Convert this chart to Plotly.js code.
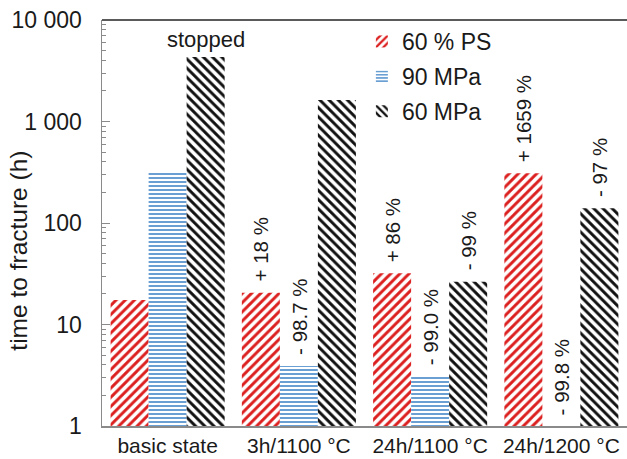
<!DOCTYPE html>
<html><head><meta charset="utf-8">
<script src="https://cdn.plot.ly/plotly-3.0.1.min.js"></script>
<style>html,body{margin:0;padding:0;background:#fff}</style>
</head><body><div id="chart" style="width:627px;height:459px"></div>
<script>
const categories = ["basic state", "3h/1100 °C", "24h/1100 °C", "24h/1200 °C"];
const seriesNames = ["60 % PS", "90 MPa", "60 MPa"];
const ps60 = [17.4, 20.6, 32, 309];
const mpa90 = [318, 3.9, 3.1, 0.64];
const mpa60 = [4320, 1630, 26.4, 140];
const labelsPS = ["", "+ 18 %", "+ 86 %", "+ 1659 %"];
const labels90 = ["", "- 98.7 %", "- 99.0 %", "- 99.8 %"];
const labels60 = ["stopped", "", "- 99 %", "- 97 %"];
const yTickVals = [1, 10, 100, 1000, 10000];
const yTickText = ["1", "10", "100", "1 000", "10 000"];
const yTitle = "time to fracture (h)";

const FONT = 'Arial, "Liberation Sans", sans-serif';
const colors = ["#dc1f1f", "#6a9fd4", "#111111"];
const shapes = ["/", "-", "\\"];
const sizes = [6.5, 4, 6.5];
const solid = [0.45, 0.5, 0.45];
const seriesVals = [ps60, mpa90, mpa60];
const seriesLabels = [labelsPS, labels90, labels60];

const traces = seriesVals.map((vals, j) => ({
  type: "bar",
  name: seriesNames[j],
  x: categories,
  y: vals,
  legendgroup: "g" + j,
  marker: {
    color: "#ffffff",
    line: {width: 0},
    pattern: {shape: shapes[j], fgcolor: colors[j], bgcolor: "#ffffff", size: sizes[j], solidity: solid[j]}
  },
  hoverinfo: "skip"
}));

// minor tick positions (axis furniture)
const minorVals = [];
for (let d = 0; d < 4; d++) for (let m = 2; m <= 9; m++) minorVals.push(m * Math.pow(10, d));
traces.push({type: "scatter", x: [categories[0]], y: [1], yaxis: "y2", mode: "markers",
  marker: {opacity: 0}, showlegend: false, hoverinfo: "skip"});

const bargap = 0.131;
const barW = (1 - bargap) / 3;
const annotations = [];
seriesLabels.forEach((labs, j) => {
  labs.forEach((t, i) => {
    if (!t) return;
    const v = Math.max(seriesVals[j][i], 1);
    const rotated = t !== "stopped";
    annotations.push({
      x: i + (j - 1) * barW, y: Math.log10(v), xref: "x", yref: "y",
      text: t, showarrow: false, textangle: rotated ? -90 : 0,
      xanchor: "center", yanchor: "bottom", yshift: rotated ? 9 : 3,
      font: {family: FONT, size: rotated ? 20.5 : 22, color: "#1a1a1a"}
    });
  });
});
// y-axis title
annotations.push({
  xref: "paper", yref: "paper", x: -0.158, y: 0.432, xanchor: "center", yanchor: "middle",
  text: yTitle, textangle: -90, showarrow: false,
  font: {family: FONT, size: 24.5, color: "#1a1a1a"}
});

const layout = {
  width: 627, height: 459,
  margin: {l: 102, r: 0, t: 20, b: 33, pad: 0},
  paper_bgcolor: "#ffffff", plot_bgcolor: "#ffffff",
  barmode: "group", bargap: bargap, bargroupgap: 0,
  font: {family: FONT, color: "#1a1a1a"},
  xaxis: {
    type: "category", range: [-0.5, 3.5], showgrid: false, zeroline: false,
    showline: true, linecolor: "#8a8a8a", linewidth: 2, ticks: "",
    ticklabelstandoff: 0,
    tickfont: {family: FONT, size: 21, color: "#1a1a1a"}, fixedrange: true
  },
  yaxis: {
    type: "log", range: [0, 4], tickvals: yTickVals, ticktext: yTickText,
    showgrid: false, zeroline: false, showline: true, linecolor: "#8a8a8a", linewidth: 1.5,
    ticks: "inside", ticklen: 8, tickwidth: 1, tickcolor: "#8a8a8a",
    ticklabelstandoff: 14,
    tickfont: {family: FONT, size: 23, color: "#1a1a1a"}
  },
  yaxis2: {
    type: "log", range: [0, 4], overlaying: "y", side: "left", tickvals: minorVals,
    showticklabels: false, ticks: "inside", ticklen: 4, tickwidth: 1, tickcolor: "#8a8a8a",
    showgrid: false, zeroline: false, showline: false
  },
  showlegend: true,
  legend: {
    x: 0.495, y: 1.0, xanchor: "left", yanchor: "top",
    bgcolor: "rgba(255,255,255,0)", borderwidth: 0,
    font: {family: FONT, size: 23, color: "#1a1a1a"},
    traceorder: "grouped", tracegroupgap: 2, itemwidth: 30
  },
  shapes: [{type: "line", xref: "paper", yref: "paper", x0: 0, x1: 1, y0: 1, y1: 1,
    line: {color: "#5a5a5a", width: 2}}],
  annotations: annotations
};

Plotly.newPlot("chart", traces, layout, {displayModeBar: false, staticPlot: true});
</script></body></html>
